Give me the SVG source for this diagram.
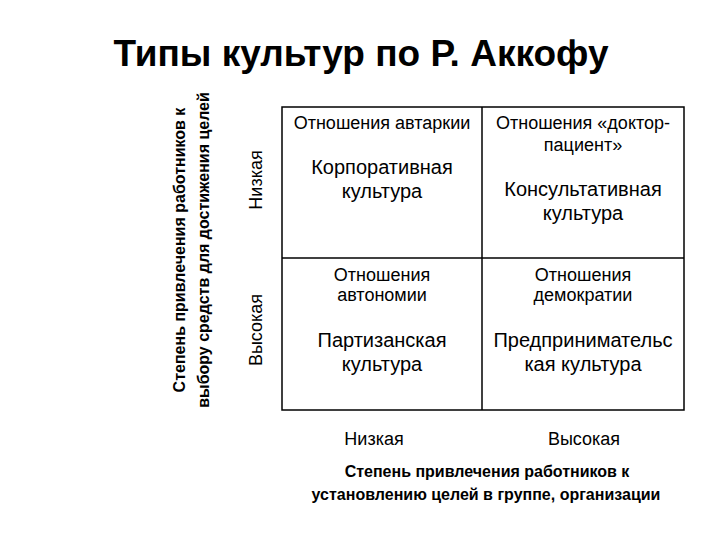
<svg xmlns="http://www.w3.org/2000/svg" width="720" height="540" viewBox="0 0 720 540">
<style>
text{font-family:"Liberation Sans",Arial,sans-serif;fill:#000;text-anchor:middle}
.title{font-size:37px;font-weight:bold}
.ax{font-size:16px;font-weight:bold}
.lvl{font-size:18px}
.rel{font-size:18px}
.cul{font-size:20px}
.grid{fill:none;stroke:#000;stroke-width:1.5}
</style>
<rect width="720" height="540" fill="#fff"/>
<text class="title" x="361" y="66">Типы культур по Р. Аккофу</text>
<g id="y-axis">
<text class="ax" transform="translate(185,250) rotate(-90)">Степень привлечения работников к</text>
<text class="ax" transform="translate(209,250) rotate(-90)">выбору средств для достижения целей</text>
<text class="lvl" transform="translate(262,180) rotate(-90)">Низкая</text>
<text class="lvl" transform="translate(262,330) rotate(-90)">Высокая</text>
</g>
<g id="grid">
<rect class="grid" x="282" y="107" width="402" height="303"/>
<line class="grid" x1="482" y1="107" x2="482" y2="410"/>
<line class="grid" x1="282" y1="258" x2="684" y2="258"/>
</g>
<g id="cell-autarky">
<text class="rel" x="382" y="129">Отношения автаркии</text>
<text class="cul" x="382" y="174">Корпоративная</text>
<text class="cul" x="382" y="198">культура</text>
</g>
<g id="cell-doctor">
<text class="rel" x="583" y="129">Отношения «доктор-</text>
<text class="rel" x="583" y="151">пациент»</text>
<text class="cul" x="583" y="196">Консультативная</text>
<text class="cul" x="583" y="220">культура</text>
</g>
<g id="cell-autonomy">
<text class="rel" x="382" y="281">Отношения</text>
<text class="rel" x="382" y="301">автономии</text>
<text class="cul" x="382" y="347">Партизанская</text>
<text class="cul" x="382" y="371">культура</text>
</g>
<g id="cell-democracy">
<text class="rel" x="583" y="281">Отношения</text>
<text class="rel" x="583" y="301">демократии</text>
<text class="cul" x="583" y="347">Предпринимательс</text>
<text class="cul" x="583" y="371">кая культура</text>
</g>
<g id="x-axis">
<text class="lvl" x="374" y="445">Низкая</text>
<text class="lvl" x="584" y="445">Высокая</text>
<text class="ax" x="487" y="477">Степень привлечения работников к</text>
<text class="ax" x="486" y="500">установлению целей в группе, организации</text>
</g>
</svg>
